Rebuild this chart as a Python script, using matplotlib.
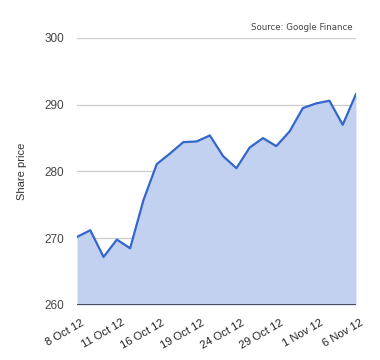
import numpy as np
import matplotlib.pyplot as plt
from matplotlib.transforms import ScaledTranslation

# Данные: цена акции по торговым дням
dates = ["8 Oct 12", "9 Oct 12", "10 Oct 12", "11 Oct 12", "12 Oct 12",
         "15 Oct 12", "16 Oct 12", "17 Oct 12", "18 Oct 12", "19 Oct 12",
         "22 Oct 12", "23 Oct 12", "24 Oct 12", "25 Oct 12", "26 Oct 12",
         "29 Oct 12", "30 Oct 12", "31 Oct 12", "1 Nov 12", "2 Nov 12",
         "5 Nov 12", "6 Nov 12"]
prices = [270.2, 271.2, 267.2, 269.8, 268.5, 275.7, 281.1, 282.7, 284.4, 284.5,
          285.4, 282.3, 280.5, 283.6, 285.0, 283.8, 286.0, 289.5, 290.2, 290.6,
          287.0, 291.6]
label_every = 3
y_ticks = [260, 270, 280, 290, 300]

plt.rcParams['font.family'] = ['Liberation Sans', 'DejaVu Sans']

fig = plt.figure(figsize=(3.8, 3.6), dpi=100)
ax = fig.add_axes([77 / 380, 1 - 305 / 360, 279 / 380, 267 / 360])

x = np.arange(len(prices))
ax.fill_between(x, 260, prices, color='#c2d1ef', linewidth=0, zorder=2)
ax.plot(x, prices, color='#3366cc', linewidth=1.6, zorder=3)

ax.set_xlim(0, len(prices) - 1)
ax.set_ylim(260, 300)
ax.set_yticks(y_ticks)
ax.set_yticklabels([str(t) for t in y_ticks], fontsize=8.5, color='#444444')
ax.grid(axis='y', color='#cccccc', linewidth=0.9, zorder=1)
ax.axhline(260, color='#333333', linewidth=1.2, zorder=4)

ax.set_xticks(x[::label_every])
ax.set_xticklabels(dates[::label_every], rotation=30, ha='right',
                   rotation_mode='anchor', fontsize=8, color='#222222')
ax.tick_params(axis='both', length=0)
ax.tick_params(axis='y', pad=9)
ax.tick_params(axis='x', pad=9)
# сдвиг подписей дат немного вправо
shift = ScaledTranslation(3 / 72, 0, fig.dpi_scale_trans)
for lbl in ax.get_xticklabels():
    lbl.set_transform(lbl.get_transform() + shift)

for s in ax.spines.values():
    s.set_visible(False)

ax.set_ylabel('Share price', fontsize=8, color='#333333', labelpad=13)
fig.text(353 / 380, 1 - 28 / 360, 'Source: Google Finance', fontsize=6.2,
         color='#444444', ha='right', va='center', family=['DejaVu Sans'])

fig.savefig('out.png', dpi=100, facecolor='white')
